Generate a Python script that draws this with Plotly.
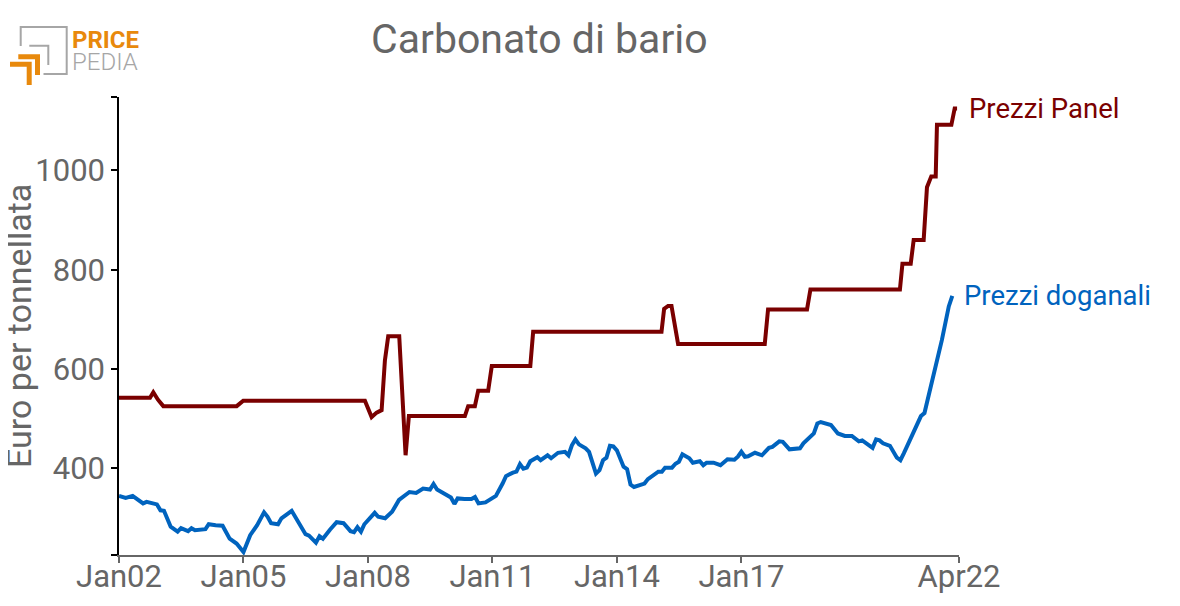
import plotly.graph_objects as go

# ---------------- data ----------------
panel_dates = ["2002-01-01", "2002-10-01", "2002-10-30", "2002-12-10", "2003-01-26",
               "2004-11-02", "2004-12-30", "2007-12-06", "2008-02-03", "2008-03-18",
               "2008-05-01", "2008-05-30", "2008-06-28", "2008-10-03", "2008-11-28",
               "2008-12-27", "2010-05-04", "2010-06-02", "2010-07-31", "2010-08-29",
               "2010-11-25", "2010-12-27", "2011-12-01", "2011-12-26", "2015-01-29",
               "2015-02-21", "2015-03-28", "2015-04-27", "2015-06-24", "2017-07-26",
               "2017-08-24", "2018-08-02", "2018-09-01", "2020-10-28", "2020-11-19",
               "2021-01-31", "2021-02-26", "2021-05-25", "2021-06-23", "2021-07-31",
               "2021-09-08", "2021-09-19", "2022-01-24", "2022-02-22", "2022-03-15"]
panel_values = [542, 542, 553, 538, 525,
                525, 536, 536, 503, 512,
                517, 617, 666, 666, 426,
                505, 505, 525, 525, 556,
                556, 606, 606, 675, 675,
                721, 727, 727, 650, 650,
                720, 720, 760, 760, 812,
                812, 860, 860, 966, 988,
                988, 1092, 1092, 1125, 1125]

customs_dates = ["2002-01", "2002-03", "2002-05", "2002-06", "2002-08", "2002-09", "2002-10", "2002-12",
                 "2003-01", "2003-02", "2003-04", "2003-06", "2003-07", "2003-09", "2003-10", "2003-11",
                 "2004-02", "2004-03", "2004-05", "2004-07", "2004-09", "2004-11",
                 "2005-01", "2005-03", "2005-05", "2005-07", "2005-08", "2005-09", "2005-11", "2005-12",
                 "2006-03", "2006-05", "2006-07", "2006-08", "2006-10", "2006-11", "2006-12",
                 "2007-02", "2007-04", "2007-06", "2007-08", "2007-09", "2007-10", "2007-11", "2007-12",
                 "2008-03", "2008-04", "2008-06", "2008-08", "2008-10",
                 "2009-01", "2009-03", "2009-05", "2009-07", "2009-08", "2009-09", "2009-12",
                 "2010-01", "2010-02", "2010-03", "2010-05", "2010-07", "2010-08", "2010-09", "2010-11",
                 "2011-01", "2011-02", "2011-04", "2011-05", "2011-07", "2011-08", "2011-09", "2011-10",
                 "2011-11", "2011-12",
                 "2012-02", "2012-03", "2012-05", "2012-06", "2012-08", "2012-10", "2012-11", "2012-12",
                 "2013-01", "2013-02", "2013-04", "2013-05", "2013-07", "2013-08", "2013-09", "2013-10",
                 "2013-11", "2013-12",
                 "2014-01", "2014-03", "2014-04", "2014-05", "2014-06", "2014-08", "2014-09", "2014-10",
                 "2015-01", "2015-02", "2015-03", "2015-05", "2015-06", "2015-07", "2015-08", "2015-10",
                 "2015-11",
                 "2016-01", "2016-02", "2016-03", "2016-05", "2016-07", "2016-09", "2016-11", "2016-12",
                 "2017-01", "2017-02", "2017-03", "2017-05", "2017-07", "2017-09", "2017-10", "2017-12",
                 "2018-01", "2018-03", "2018-06", "2018-07", "2018-10", "2018-11", "2018-12",
                 "2019-02", "2019-03", "2019-05", "2019-07", "2019-09", "2019-11", "2019-12",
                 "2020-03", "2020-04", "2020-05", "2020-06", "2020-08", "2020-10", "2020-11", "2020-12",
                 "2021-05", "2021-06", "2021-07", "2021-09", "2021-11", "2022-01", "2022-02"]
customs_values = [344, 340, 344, 339, 329, 332, 330, 327,
                  315, 314, 282, 272, 279, 273, 279, 275,
                  277, 287, 285, 284, 258, 248,
                  231, 265, 285, 311, 302, 289, 287, 299,
                  314, 289, 267, 264, 250, 263, 258,
                  276, 291, 289, 273, 271, 281, 272, 287,
                  310, 302, 299, 312, 336,
                  352, 350, 359, 357, 368, 357, 346,
                  341, 328, 339, 338, 338, 342, 329, 331,
                  340, 344, 369, 384, 391, 393, 408, 399,
                  401, 414,
                  422, 416, 426, 420, 431, 433, 426, 446,
                  458, 448, 440, 433, 389, 396, 416, 421,
                  445, 444,
                  436, 403, 398, 367, 362, 368, 369, 378,
                  393, 393, 401, 401, 409, 413, 428, 420,
                  411,
                  414, 406, 411, 411, 406, 418, 417, 423,
                  433, 423, 424, 431, 426, 441, 443, 454,
                  453, 438, 440, 450, 470, 490, 493,
                  489, 487, 470, 465, 465, 454, 456,
                  441, 458, 456, 450, 445, 421, 416, 430,
                  505, 511, 540, 604, 658, 726, 747]

x_tick_dates = ["2002-01-01", "2005-01-01", "2008-01-01", "2011-01-01",
                "2014-01-01", "2017-01-01", "2022-04-01"]
x_tick_labels = ["Jan02", "Jan05", "Jan08", "Jan11", "Jan14", "Jan17", "Apr22"]
y_tick_values = [225, 400, 600, 800, 1000, 1148]
y_tick_labels = ["", "400", "600", "800", "1000", ""]

series_names = ["Prezzi Panel", "Prezzi doganali"]
title_text = "Carbonato di bario"
y_title = "Euro per tonnellata"

# ---------------- style ----------------
RED = "#7A0000"
BLUE = "#0063BE"
GRAY = "#666666"
ORANGE = "#E8890C"
FONT = "Roboto"

OFF = 8  # page body margin of the html page
W, H = 1180 - OFF, 606 - OFF
# plot area in page pixel coordinates
L, R, T, B = 119, 959, 97, 555
ML, MR, MT, MB = L - OFF, (W + OFF) - R, T - OFF, (H + OFF) - B


def fx(px):
    return (px - L) / (R - L)


def fy(py):
    return (B - py) / (B - T)


fig = go.Figure()
fig.add_trace(go.Scatter(x=panel_dates, y=panel_values, mode="lines",
                         line=dict(color=RED, width=4), name=series_names[0],
                         hoverinfo="x+y"))
fig.add_trace(go.Scatter(x=customs_dates, y=customs_values, mode="lines",
                         line=dict(color=BLUE, width=4), name=series_names[1],
                         hoverinfo="x+y"))

annotations = [
    dict(x=panel_dates[-1], y=panel_values[-1], xref="x", yref="y", text=series_names[0],
         showarrow=False, xanchor="left", yanchor="middle", xshift=10,
         font=dict(family=FONT, size=27.5, color=RED)),
    dict(x=customs_dates[-1], y=customs_values[-1], xref="x", yref="y", text=series_names[1],
         showarrow=False, xanchor="left", yanchor="middle", xshift=10,
         font=dict(family=FONT, size=27.5, color=BLUE)),
    dict(x=fx(539.5), y=fy(39), xref="paper", yref="paper", text=title_text,
         showarrow=False, xanchor="center", yanchor="middle",
         font=dict(family=FONT, size=41, color=GRAY)),
    dict(x=fx(19), y=fy(326), xref="paper", yref="paper", text=y_title,
         showarrow=False, xanchor="center", yanchor="middle", textangle=-90,
         font=dict(family=FONT, size=34, color=GRAY)),
    # logo text
    dict(x=fx(70), y=fy(39.5), xref="paper", yref="paper", text="<b>PRICE</b>",
         showarrow=False, xanchor="left", yanchor="middle",
         font=dict(family=FONT, size=24, color=ORANGE)),
    dict(x=fx(70), y=fy(62), xref="paper", yref="paper", text="PEDIA",
         showarrow=False, xanchor="left", yanchor="middle",
         font=dict(family=FONT, size=24, color="#A6A6A6", weight=300)),
]


def path(points):
    return "M " + " L ".join(f"{fx(a)},{fy(b)}" for a, b in points)


shapes = [
    dict(type="path", xref="paper", yref="paper",
         path=path([(20.7, 46), (20.7, 27), (66.7, 27), (66.7, 74), (43.5, 74)]),
         line=dict(color="#A6A6A6", width=2)),
    dict(type="path", xref="paper", yref="paper",
         path=path([(29.3, 45.7), (48.3, 45.7), (48.3, 65)]),
         line=dict(color="#A6A6A6", width=2)),
    dict(type="path", xref="paper", yref="paper",
         path=path([(18.3, 56.8), (37.5, 56.8), (37.5, 75)]),
         line=dict(color=ORANGE, width=5)),
    dict(type="path", xref="paper", yref="paper",
         path=path([(10, 64.2), (29.2, 64.2), (29.2, 85)]),
         line=dict(color=ORANGE, width=5)),
]

fig.update_layout(
    width=W, height=H,
    margin=dict(l=ML, r=MR, t=MT, b=MB, pad=0, autoexpand=False),
    paper_bgcolor="white", plot_bgcolor="white",
    showlegend=False,
    annotations=annotations,
    shapes=shapes,
    font=dict(family=FONT, color=GRAY),
    xaxis=dict(type="date", range=["2002-01-01", "2022-04-01"],
               tickmode="array", tickvals=x_tick_dates, ticktext=x_tick_labels,
               showgrid=False, zeroline=False, automargin=False,
               showline=True, linecolor=GRAY, linewidth=1.5,
               ticks="outside", ticklen=6, tickcolor=GRAY, tickwidth=1.5,
               ticklabelstandoff=-13,
               tickfont=dict(family=FONT, size=31, color=GRAY)),
    yaxis=dict(range=[225, 1148],
               tickmode="array", tickvals=y_tick_values, ticktext=y_tick_labels,
               showgrid=False, zeroline=False, automargin=False,
               showline=True, linecolor="black", linewidth=1.5,
               ticks="outside", ticklen=6, tickcolor="black", tickwidth=1.5,
               tickfont=dict(family=FONT, size=31, color=GRAY)),
)

fig.write_html("out.html")
